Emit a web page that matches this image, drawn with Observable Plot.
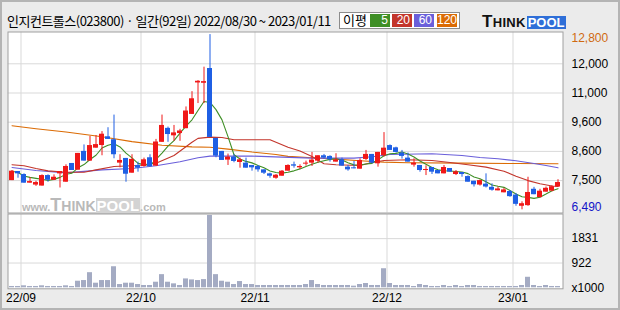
<!DOCTYPE html>
<html><head><meta charset="utf-8">
<script src="https://cdn.jsdelivr.net/npm/d3@7"></script>
<script src="https://cdn.jsdelivr.net/npm/@observablehq/plot@0.6"></script>
<style>
html,body{margin:0;padding:0;background:#ebebeb;}
#chart{position:relative;width:620px;height:310px;background:#ebebeb;overflow:hidden;font-family:"Liberation Sans",Arial,sans-serif;}
#chart svg{position:absolute;left:0;overflow:visible;}
#border{position:absolute;left:0;top:0;width:620px;height:310px;box-sizing:border-box;border:2px solid #b4b4b4;pointer-events:none;}
#title{position:absolute;left:7px;top:11px;font-family:"Noto Sans CJK KR";font-size:13px;letter-spacing:-0.5px;line-height:20px;color:#000;white-space:nowrap;}
#legend{position:absolute;left:339px;top:12px;width:121px;height:17px;box-sizing:border-box;border:1px solid #8c8c8c;background:#fff;}
#legend .lbl{position:absolute;left:3px;top:-2px;font-family:"Noto Sans CJK KR";font-size:13px;line-height:18px;}
#legend .box{position:absolute;top:1px;height:13px;width:20px;color:#fff;font-size:12px;line-height:13px;text-align:right;box-sizing:border-box;padding-right:2px;}
#logo{position:absolute;left:482px;top:12px;height:17px;white-space:nowrap;font-family:"Liberation Sans",Arial,sans-serif;font-weight:bold;}
#logo .t1{font-size:17px;letter-spacing:0.3px;color:#111;}
#logo .t2{font-size:13px;letter-spacing:0.3px;color:#111;}
#logo .pool{display:inline-block;background:#2f6fd8;color:#fff;font-size:13px;padding:0 1px;line-height:13px;margin-left:1px;}
#wm{position:absolute;left:22px;top:195px;white-space:nowrap;font-family:"Liberation Sans",Arial,sans-serif;font-weight:bold;color:#b9b9b9;pointer-events:none;}
#wm .s{font-size:11px;}
#wm .b1{font-size:18px;}
#wm .b2{font-size:14px;}
#wm .pool{display:inline-block;background:#d3d3d3;color:#fff;font-size:15px;line-height:15px;padding:0 1px;}
</style>
</head><body>
<div id="chart">
  <div id="title">인지컨트롤스(023800) · 일간(92일) 2022/08/30 ~ 2023/01/11</div>
  <div id="legend">
    <span class="lbl">이평</span>
    <span class="box" style="left:30px;background:#3f8f26">5</span>
    <span class="box" style="left:52px;background:#c3352b">20</span>
    <span class="box" style="left:74px;background:#6a5fda">60</span>
    <span class="box" style="left:97px;background:#db6b04">120</span>
  </div>
  <div id="logo"><span class="t1">T</span><span class="t2">HINK</span><span class="pool">POOL</span></div>
</div>
<script>
// ---- data ----
const opens  = [7500,7842,7729,7411,7345,7311,7690,7513,7753,7444,8145,7893,8600,8234,8711,8802,9100,9000,8158,8335,7779,8070,8032,8360,8044,8911,9389,9133,9211,9378,9973,11344,11333,11839,9045,8600,8272,8385,8183,8158,8070,8032,7905,7754,7589,7665,7855,8095,7981,8120,8158,8234,8436,8411,8196,8284,8007,7981,7930,8297,8486,8133,8436,8800,8722,8537,8347,8083,8070,7880,7994,7880,7754,7956,7729,7804,7652,7478,7345,7378,7267,7145,7078,7123,7000,6612,6634,7200,6912,7100,7134,7278];
const highs  = [7880,7842,7754,7614,7478,7716,7716,7715,7842,8095,8145,8524,8822,9111,9145,9278,9411,9941,8474,8335,8474,8196,8347,8474,9011,9942,9433,9489,9356,10332,11046,11425,11885,12800,9045,8600,8499,8486,8347,8347,8070,8070,7905,7779,7729,7880,8095,8196,8095,8234,8562,8436,8486,8436,8512,8347,8070,8221,8322,8633,8486,8562,9244,8822,8744,8633,8537,8322,8070,8057,7994,7880,8070,7956,7880,7804,7678,7478,7525,7754,7389,7278,7234,7156,7056,6767,7626,7267,7200,7278,7322,7533];
const lows   = [7500,7590,7411,7411,7300,7311,7444,7500,7245,7444,7880,7893,8234,8234,8711,8436,9011,8322,7981,7444,7779,7817,8007,8019,8044,8911,8911,8945,8945,9378,9973,10495,10495,9078,8360,8259,8070,8171,7968,7968,7855,7817,7729,7589,7551,7665,7855,7968,7918,8045,8032,8158,8310,8196,8196,8045,7855,7943,7930,8259,8133,8007,8385,8633,8537,8310,8196,8007,7817,7690,7729,7754,7754,7817,7690,7627,7444,7278,7311,7245,7134,7145,7078,6923,6612,6490,6612,7012,6912,7100,7112,7278];
const closes = [7855,7754,7411,7467,7433,7690,7513,7627,7842,8032,7880,8524,8234,8800,8833,9189,9011,8474,8259,7740,8297,7968,8284,8019,8922,9489,9178,9234,9300,10136,10723,11402,11390,9078,8423,8259,8385,8221,8284,7968,7981,7905,7779,7665,7703,7855,8070,8045,8032,8158,8272,8436,8347,8284,8284,8045,7905,7943,8259,8486,8158,8562,8711,8633,8562,8411,8196,8158,7880,7918,7817,7754,7994,7817,7830,7729,7444,7356,7500,7278,7167,7211,7178,6945,6679,6701,7089,7012,7134,7234,7289,7433];
const volumes = [49,49,74,49,49,74,49,49,49,74,49,245,270,563,171,270,270,784,122,171,171,122,86,86,208,490,208,147,86,331,294,270,306,2695,490,245,208,122,233,122,122,86,86,86,86,86,86,86,86,122,270,122,86,86,86,86,86,61,122,160,86,86,710,160,86,86,86,49,122,86,49,49,86,49,86,49,86,86,49,49,49,49,49,49,49,86,392,86,49,86,49,49];

const ma20Idx = [0,2,4,6,9,12,14,17,21,24,27,30,31,33,35,37,43,46,48,50,52,54,58,60,62,66,70,73,76,79,82,84,86,88,90,91];
const ma20Val = [8095,8057,7956,7867,7817,7817,7905,8032,8070,8158,8448,8911,9045,9089,9078,9000,9000,8744,8611,8411,8133,8095,8070,8183,8259,8284,8259,8183,8095,8007,7855,7665,7500,7389,7311,7300];
const ma60Idx = [0,4,9,15,20,24,28,31,33,40,45,50,57,60,63,70,75,78,81,84,87,89,91];
const ma60Val = [7994,7880,7792,7905,7956,8057,8208,8360,8423,8423,8385,8347,8347,8398,8486,8512,8448,8373,8322,8246,8145,8070,7981];
const ma120Idx = [0,4,9,15,20,25,30,33,36,40,44,46,50,54,58,62,66,75,84,91];
const ma120Val = [9478,9378,9267,9100,8934,8811,8755,8744,8678,8575,8486,8411,8360,8310,8246,8196,8171,8158,8145,8133];

const priceTicks = [12800,12000,11000,9600,8600,7500,6490];
const volTicks = [1831,922,0];
const volTickLabels = ["1831","922","x1000"];
const monthLabels = ["22/09","22/10","22/11","22/12","23/01"];
const monthStartIdx = [2,22,41,63,84];

// ---- tables ----
const candles = opens.map((o,i)=>({i, open:o, high:highs[i], low:lows[i], close:closes[i], vol:volumes[i]}));
const up = candles.filter(d=>d.close>=d.open);
const down = candles.filter(d=>d.close<d.open);
const toPts = (idx, val) => idx.map((i,k)=>({i, v:val[k]}));
const ma20 = toPts(ma20Idx, ma20Val), ma60 = toPts(ma60Idx, ma60Val), ma120 = toPts(ma120Idx, ma120Val);
const months = monthLabels.map((l,k)=>({x: monthStartIdx[k]-0.5, label:l}));
const fmt = d3.format(",");

const C = {red:"#f01818", blue:"#1f5fe4", ma5:"#3f8f26", ma20:"#c3352b", ma60:"#6a5fda", ma120:"#db6b04",
  vol:"#a4abc3", grid:"#d9d9d9", border:"#a0a0a0"};
const half = 2.5/6;
const N = candles.length;
const xScale = {type:"linear", domain:[-0.5, N-0.5], range:[8.5, 560.5], axis:null};
const font = {background:"transparent", fontFamily:"'Liberation Sans', Arial, sans-serif", fontSize:"12px", color:"#000", overflow:"visible"};

// piecewise price scale: labelled values evenly spaced
const yDom = priceTicks.slice().sort((a,b)=>a-b);
const yTop = 3.1, yBot = 178.3;
const yRange = yDom.map((d,k)=> yBot - k*(yBot-yTop)/(yDom.length-1));
const gridPrices = priceTicks.slice(1,-1);

const chart = document.getElementById("chart");

const price = Plot.plot({
  width:620, height:182,
  marginLeft:7.5, marginRight:57.5, marginTop:0.5, marginBottom:0.5,
  x: xScale,
  y: {type:"linear", domain:yDom, range:yRange, axis:null},
  style: font,
  marks: [
    Plot.frame({fill:"white"}),
    Plot.ruleY(gridPrices, {y:d=>d, stroke:C.grid}),
    Plot.ruleX(months, {x:"x", stroke:C.grid}),
    Plot.line(ma120, {x:"i", y:"v", stroke:C.ma120, strokeWidth:1.1}),
    Plot.line(ma60, {x:"i", y:"v", stroke:C.ma60, strokeWidth:1.1}),
    Plot.line(ma20, {x:"i", y:"v", stroke:C.ma20, strokeWidth:1.1}),
    Plot.line(candles, Plot.windowY({k:5, anchor:"end", reduce:"mean"}, {x:"i", y:"close", stroke:C.ma5, strokeWidth:1.1})),
    Plot.ruleX(up, {x:"i", y1:"low", y2:"high", stroke:C.red}),
    Plot.ruleX(down, {x:"i", y1:"low", y2:"high", stroke:C.blue}),
    Plot.rect(up, {x1:d=>d.i-half, x2:d=>d.i+half, y1:"open", y2:"close", fill:C.red}),
    Plot.rect(down, {x1:d=>d.i-half, x2:d=>d.i+half, y1:"open", y2:"close", fill:C.blue}),
    Plot.frame({stroke:C.border}),
    Plot.text(gridPrices, {y:d=>d, text:d=>fmt(d), frameAnchor:"right", dx:8.5, textAnchor:"start", fill:"#000"}),
    Plot.text([priceTicks[0]], {y:d=>d, text:d=>fmt(d), frameAnchor:"right", dx:8.5, dy:3.2, textAnchor:"start", fill:"#d06a10"}),
    Plot.text([priceTicks[priceTicks.length-1]], {y:d=>d, text:d=>fmt(d), frameAnchor:"right", dx:8.5, dy:-2.6, textAnchor:"start", fill:"#1414c8"})
  ]
});
price.style.top = "31px";
chart.appendChild(price);

const vol = Plot.plot({
  width:620, height:97,
  marginLeft:7.5, marginRight:57.5, marginTop:0.5, marginBottom:21.7,
  x: xScale,
  y: {type:"linear", domain:[0, 2730], range:[74.3, 1], axis:null},
  style: font,
  marks: [
    Plot.frame({fill:"white"}),
    Plot.ruleY(volTicks.filter(d=>d>0), {y:d=>d, stroke:C.grid}),
    Plot.ruleX(months, {x:"x", stroke:C.grid}),
    Plot.rect(candles, {x1:d=>d.i-half, x2:d=>d.i+half, y1:0, y2:"vol", fill:C.vol}),
    Plot.frame({stroke:C.border}),
    Plot.text(volTicks, {y:d=>d, text:(d,k)=>volTickLabels[k], frameAnchor:"right", dx:8.5, textAnchor:"start", fill:"#000"}),
    Plot.text(months, {x:"x", text:"label", frameAnchor:"bottom", dy:13.2, fill:"#000"})
  ]
});
vol.style.top = "213px";
chart.appendChild(vol);

const wm = document.createElement("div");
wm.id = "wm";
wm.innerHTML = '<span class="s">www.</span><span class="b1">T</span><span class="b2">HINK</span><span class="pool">POOL</span><span class="s">.com</span>';
chart.appendChild(wm);
const bd = document.createElement("div");
bd.id = "border";
chart.appendChild(bd);
</script>
</body></html>
